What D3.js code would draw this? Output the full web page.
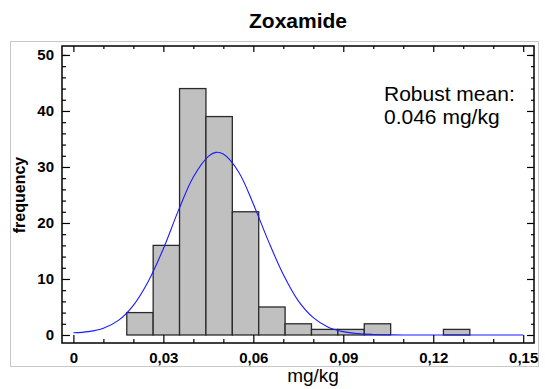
<!DOCTYPE html>
<html>
<head>
<meta charset="utf-8">
<script src="https://cdn.jsdelivr.net/npm/d3@7"></script>
<style>
  body { margin: 0; background: #fff; }
  svg text { font-family: "Liberation Sans", Arial, sans-serif; fill: #000; }
</style>
</head>
<body>
<div id="chart"></div>
<script>
// histogram bins (lower edge, mg/kg) and counts
var binLower = [0.0178, 0.0266, 0.0354, 0.0442, 0.0530, 0.0618, 0.0706, 0.0794, 0.0882, 0.0970, 0.1058, 0.1146, 0.1234];
var binWidth = 0.0088;
var counts = [4, 16, 44, 39, 22, 5, 2, 1, 1, 2, 0, 0, 1];

// fitted curve
var curveX = [0, 0.005, 0.01, 0.015, 0.02, 0.025, 0.03, 0.035, 0.04, 0.045, 0.0475, 0.05, 0.055, 0.06, 0.065, 0.07, 0.075, 0.08, 0.085, 0.09, 0.095, 0.1, 0.105, 0.11, 0.12, 0.13, 0.14, 0.15];
var curveY = [0.4, 0.6, 1.2, 2.6, 5.3, 9.6, 15.4, 22.2, 28.2, 31.9, 32.6, 32.3, 29.2, 23.4, 16.8, 10.8, 6.1, 3.1, 1.4, 0.6, 0.25, 0.1, 0.03, 0, 0, 0, 0, 0];

var xTicks = [0, 0.03, 0.06, 0.09, 0.12, 0.15];
var xTickLabels = ["0", "0,03", "0,06", "0,09", "0,12", "0,15"];
var xMinor = [0.01, 0.02, 0.04, 0.05, 0.07, 0.08, 0.10, 0.11, 0.13, 0.14];
var yTicks = [0, 10, 20, 30, 40, 50];
var yMinor = [2, 4, 6, 8, 12, 14, 16, 18, 22, 24, 26, 28, 32, 34, 36, 38, 42, 44, 46, 48, 50];

var W = 545, H = 389;
var L = 62, R = 534, T = 46, B = 343;

var svg = d3.select("#chart").append("svg")
    .attr("width", W)
    .attr("height", H);

// outer light frame
svg.append("rect")
    .attr("x", 10.5).attr("y", 41.5)
    .attr("width", 528).attr("height", 325)
    .attr("fill", "none").attr("stroke", "#c8c8c8");

var x = d3.scaleLinear().domain([-0.0038, 0.1536]).range([L, R]);
var y = d3.scaleLinear().domain([-1.43, 51.6]).range([B, T]);

var bins = binLower.map((lo, i) => ({ lo: lo, hi: lo + binWidth, n: counts[i] }))
    .filter(d => d.n > 0);

// bars
svg.append("g").selectAll("rect")
    .data(bins)
    .join("rect")
      .attr("x", d => x(d.lo))
      .attr("y", d => y(d.n))
      .attr("width", d => x(d.hi) - x(d.lo))
      .attr("height", d => y(0) - y(d.n))
      .attr("fill", "#c0c0c0")
      .attr("stroke", "#2a2a2a")
      .attr("stroke-width", 1.3);

// curve
var pts = curveX.map((v, i) => [v, curveY[i]]);
svg.append("path")
    .datum(pts)
    .attr("fill", "none")
    .attr("stroke", "#1a1aff")
    .attr("stroke-width", 1.1)
    .attr("d", d3.line().x(d => x(d[0])).y(d => y(d[1])).curve(d3.curveCatmullRom.alpha(0.5)));

// axes, ticks pointing inward
function styleAxis(g) {
  g.select(".domain").remove();
  g.selectAll("line").attr("stroke", "#000").attr("stroke-width", 1.2);
  g.selectAll("text").style("font-size", "15px").style("font-weight", "bold");
}

svg.append("g")
    .attr("transform", `translate(0,${B})`)
    .call(d3.axisBottom(x).tickValues(xTicks).tickSize(-8).tickPadding(9)
      .tickFormat((d, i) => xTickLabels[i]))
    .call(styleAxis);
svg.append("g")
    .attr("transform", `translate(0,${B})`)
    .call(d3.axisBottom(x).tickValues(xMinor).tickSize(-4).tickFormat(""))
    .call(styleAxis);

svg.append("g")
    .attr("transform", `translate(0,${T})`)
    .call(d3.axisTop(x).tickValues(xTicks).tickSize(-6).tickFormat(""))
    .call(styleAxis);
svg.append("g")
    .attr("transform", `translate(0,${T})`)
    .call(d3.axisTop(x).tickValues(xMinor).tickSize(-3).tickFormat(""))
    .call(styleAxis);

svg.append("g")
    .attr("transform", `translate(${L},0)`)
    .call(d3.axisLeft(y).tickValues(yTicks).tickSize(-8).tickPadding(8))
    .call(styleAxis);
svg.append("g")
    .attr("transform", `translate(${L},0)`)
    .call(d3.axisLeft(y).tickValues(yMinor).tickSize(-4).tickFormat(""))
    .call(styleAxis);

svg.append("g")
    .attr("transform", `translate(${R},0)`)
    .call(d3.axisRight(y).tickValues(yTicks).tickSize(-7).tickFormat(""))
    .call(styleAxis);
svg.append("g")
    .attr("transform", `translate(${R},0)`)
    .call(d3.axisRight(y).tickValues(yMinor).tickSize(-3).tickFormat(""))
    .call(styleAxis);

// plot frame
svg.append("rect")
    .attr("x", L).attr("y", T)
    .attr("width", R - L).attr("height", B - T)
    .attr("fill", "none").attr("stroke", "#000").attr("stroke-width", 1.5);

// texts
svg.append("text")
    .attr("x", (L + R) / 2).attr("y", 28)
    .attr("text-anchor", "middle")
    .style("font-size", "21px").style("font-weight", "bold")
    .text("Zoxamide");

svg.append("text")
    .attr("transform", "translate(25,195) rotate(-90)")
    .attr("text-anchor", "middle")
    .style("font-size", "16px").style("font-weight", "bold")
    .text("frequency");

svg.append("text")
    .attr("x", 313).attr("y", 382)
    .attr("text-anchor", "middle")
    .style("font-size", "19px")
    .text("mg/kg");

svg.append("text")
    .attr("x", 384).attr("y", 101)
    .style("font-size", "21px")
    .text("Robust mean:");
svg.append("text")
    .attr("x", 384).attr("y", 124)
    .style("font-size", "21px")
    .text("0.046 mg/kg");
</script>
</body>
</html>
